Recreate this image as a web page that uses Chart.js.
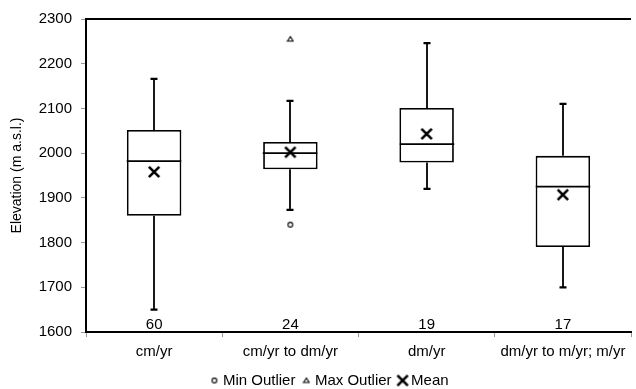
<!DOCTYPE html>
<html>
<head>
<meta charset="utf-8">
<script src="https://cdn.jsdelivr.net/npm/chart.js@4"></script>
<style>
body{margin:0;background:#fff}
#wrap{width:636px;height:389px}
</style>
</head>
<body>
<div id="wrap"><canvas id="myChart"></canvas></div>
<script>
// data
var categories = ['cm/yr', 'cm/yr to dm/yr', 'dm/yr', 'dm/yr to m/yr; m/yr'];
var counts = [60, 24, 19, 17];
var whiskerLow = [1650, 1873, 1920, 1700];
var q1 = [1860, 1964, 1979, 1790];
var median = [1982, 2000, 2020, 1925];
var q3 = [2052, 2025, 2101, 1994];
var whiskerHigh = [2166, 2117, 2246, 2110];
var mean = [1958, 2002, 2043, 1907];
var minOutlier = [null, 1840, null, null];
var maxOutlier = [null, 2255, null, null];
var yMin = 1600, yMax = 2300, yStep = 100;

var FONT = 'Liberation Sans, Arial, Helvetica, sans-serif';
var FS = 15;

/* little marker images, used in plot and legend */
function marker(kind) {
    var c = document.createElement('canvas');
    var s = kind == 'mean' ? 14 : 8;
    c.width = s; c.height = s;
    var g = c.getContext('2d');
    g.strokeStyle = '#000';
    if (kind == 'mean') {
        g.lineWidth = 2.6;
        g.beginPath();
        g.moveTo(1.8, 1.8); g.lineTo(s - 1.8, s - 1.8);
        g.moveTo(s - 1.8, 1.8); g.lineTo(1.8, s - 1.8);
        g.stroke();
    } else if (kind == 'min') {
        g.lineWidth = 1.1;
        g.fillStyle = '#fff';
        g.beginPath();
        g.arc(s / 2, s / 2, 2.4, 0, Math.PI * 2);
        g.fill(); g.stroke();
    } else {
        g.lineWidth = 1.1;
        g.fillStyle = '#fff';
        g.beginPath();
        g.moveTo(s / 2, 1.5); g.lineTo(s - 1.2, s - 2); g.lineTo(1.2, s - 2);
        g.closePath();
        g.fill(); g.stroke();
    }
    return c;
}

/* whiskers, medians, counts, top border */
var boxExtras = {
    id: 'boxExtras',
    afterLayout: function(chart) {
        // nudge the legend a bit right, like the original
        chart.legend.left += 13;
        chart.legend.right += 13;
    },
    afterDatasetDraw: function(chart, args) {
        if (args.index !== 0) return;
        var ctx = chart.ctx, y = chart.scales.y;
        var meta = chart.getDatasetMeta(0);
        ctx.save();
        ctx.strokeStyle = '#000';
        categories.forEach(function(c, i) {
            var bar = meta.data[i];
            var cx = Math.round(bar.x), half = bar.width / 2;
            ctx.lineWidth = 1.8;
            ctx.beginPath();
            ctx.moveTo(cx - half, y.getPixelForValue(median[i]));
            ctx.lineTo(cx + half, y.getPixelForValue(median[i]));
            ctx.moveTo(cx, y.getPixelForValue(q3[i]));
            ctx.lineTo(cx, y.getPixelForValue(whiskerHigh[i]));
            ctx.moveTo(cx, y.getPixelForValue(q1[i]));
            ctx.lineTo(cx, y.getPixelForValue(whiskerLow[i]));
            ctx.stroke();
            ctx.lineWidth = 2.2;
            ctx.beginPath();
            ctx.moveTo(cx - 3.5, y.getPixelForValue(whiskerHigh[i]));
            ctx.lineTo(cx + 3.5, y.getPixelForValue(whiskerHigh[i]));
            ctx.moveTo(cx - 3.5, y.getPixelForValue(whiskerLow[i]));
            ctx.lineTo(cx + 3.5, y.getPixelForValue(whiskerLow[i]));
            ctx.stroke();
        });
        ctx.restore();
    },
    afterDraw: function(chart) {
        var ctx = chart.ctx, a = chart.chartArea;
        var meta = chart.getDatasetMeta(0);
        ctx.save();
        ctx.strokeStyle = '#000';
        ctx.lineWidth = 2;
        ctx.beginPath();
        ctx.moveTo(a.left, a.top);
        ctx.lineTo(a.right, a.top);
        ctx.stroke();
        ctx.fillStyle = '#000';
        ctx.font = FS + 'px ' + FONT;
        ctx.textAlign = 'center';
        ctx.textBaseline = 'middle';
        counts.forEach(function(n, i) {
            ctx.fillText(String(n), meta.data[i].x, a.bottom - 7);
        });
        ctx.restore();
    }
};

var ctx = document.getElementById('myChart').getContext('2d');
var chart = new Chart(ctx, {
    type: 'bar',
    data: {
        labels: categories,
        datasets: [{
            label: 'Box',
            data: q1.map(function(v, i) { return [v, q3[i]]; }),
            backgroundColor: '#fff',
            borderColor: '#000',
            borderWidth: 1.8,
            borderSkipped: false,
            barPercentage: 0.4,
            categoryPercentage: 1,
            order: 3
        }, {
            type: 'line',
            label: 'Min Outlier',
            data: minOutlier,
            showLine: false,
            pointStyle: marker('min'),
            order: 1
        }, {
            type: 'line',
            label: 'Max Outlier',
            data: maxOutlier,
            showLine: false,
            pointStyle: marker('max'),
            order: 1
        }, {
            type: 'line',
            label: 'Mean',
            data: mean,
            showLine: false,
            pointStyle: marker('mean'),
            order: 1
        }]
    },
    options: {
        responsive: true,
        maintainAspectRatio: false,
        animation: false,
        layout: { padding: { left: 0, right: 0, top: 19, bottom: 0 } },
        plugins: {
            tooltip: { enabled: false },
            legend: {
                position: 'bottom',
                maxHeight: 26,
                labels: {
                    usePointStyle: true,
                    boxWidth: 2,
                    boxHeight: 6,
                    padding: 10,
                    color: '#000',
                    font: { size: FS, family: FONT },
                    filter: function(item) { return item.datasetIndex > 0; }
                }
            }
        },
        scales: {
            x: {
                grid: { offset: true, drawOnChartArea: false, drawTicks: true, tickLength: 5, color: '#999' },
                border: { color: '#000', width: 2 },
                ticks: { color: '#000', padding: 6, font: { size: FS, family: FONT }, maxRotation: 0 },
                afterFit: function(s) { s.height = 31; }
            },
            y: {
                min: yMin,
                max: yMax,
                ticks: {
                    stepSize: yStep, color: '#000', padding: 9, font: { size: FS, family: FONT },
                    callback: function(v) { return String(v); }
                },
                grid: { drawOnChartArea: false, drawTicks: true, tickLength: 5, color: '#999' },
                border: { color: '#000', width: 2 },
                title: {
                    display: true,
                    text: 'Elevation (m a.s.l.)',
                    color: '#000',
                    font: { size: 14, family: FONT },
                    padding: { top: 9, bottom: 0 }
                },
                afterFit: function(s) { s.width = 86; }
            }
        }
    },
    plugins: [boxExtras]
});
</script>
</body>
</html>
